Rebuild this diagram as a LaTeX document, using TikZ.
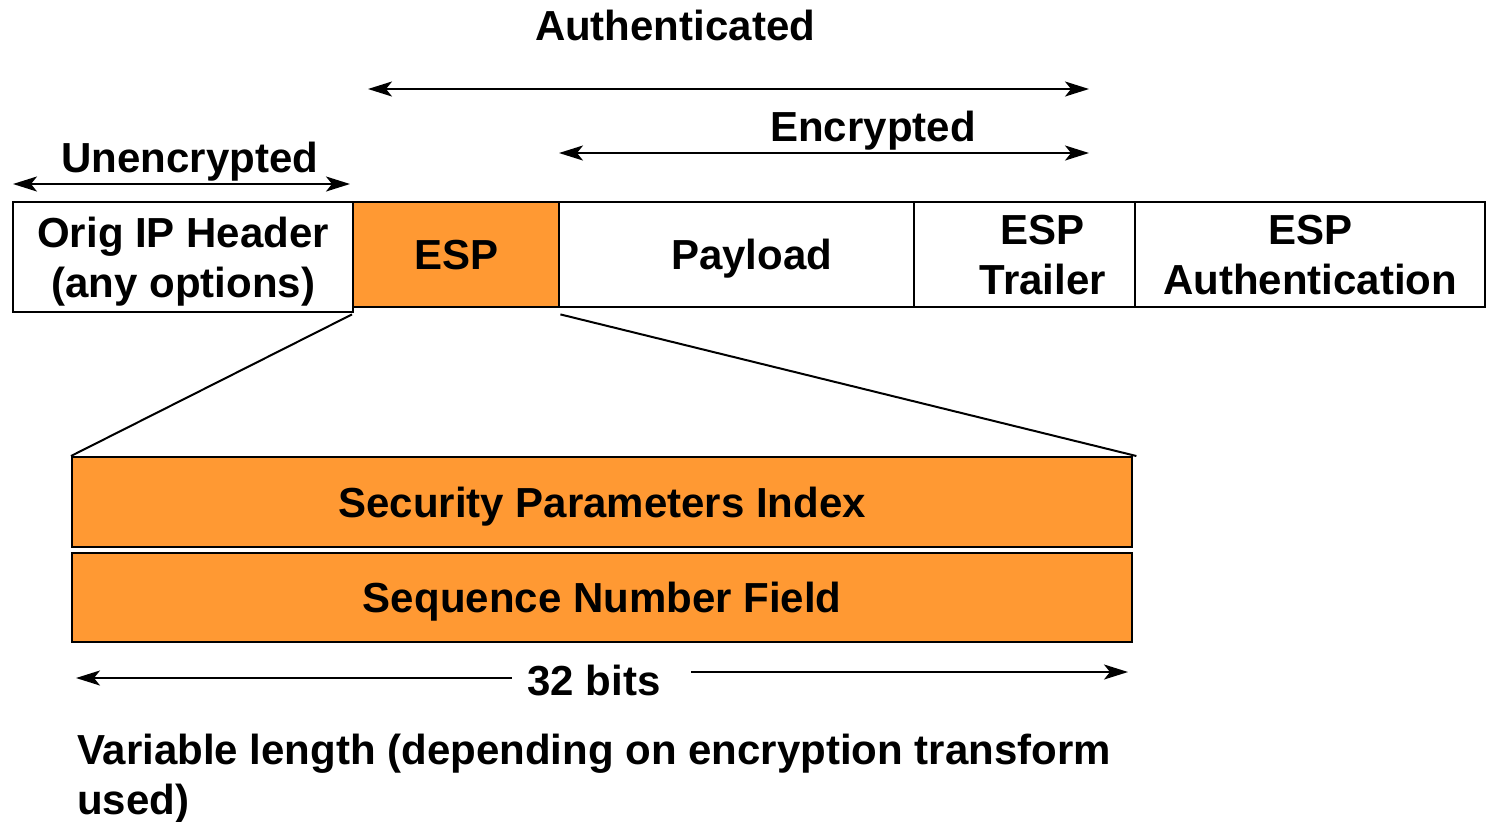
\documentclass[tikz,border=0pt]{standalone}
\usepackage{fontspec}
\setmainfont{Liberation Sans}
\usetikzlibrary{arrows.meta}
\definecolor{espfill}{RGB}{255,153,51}
\tikzset{esptip/.tip={Stealth[length=12pt, width=7.5pt, inset=3pt]}}

\begin{document}
\begin{tikzpicture}[x=0.5pt, y=-0.5pt, line width=1pt,
    font=\fontsize{21}{25}\selectfont\bfseries,
    field/.style={draw, line width=1.2pt, anchor=north west, align=center, inner sep=0pt, text depth=0pt},
    lbl/.style={inner sep=0pt},
    span/.style={esptip-esptip}]
  \useasboundingbox (0,0) rectangle (1488,821);
  % outer packet
  \node[field, minimum width=170pt, minimum height=55pt] (hdr) at (12,201) {Orig IP Header\\(any options)};
  \node[field, fill=espfill, minimum width=103pt, minimum height=52.5pt] (esp) at (352,201) {ESP};
  \node[field, minimum width=177.5pt, minimum height=52.5pt] (payload) at (558,201) {\hspace*{15pt}Payload};
  \node[field, minimum width=110.5pt, minimum height=52.5pt] (trailer) at (913,201) {\hspace*{18pt}ESP\\\hspace*{18pt}Trailer};
  \node[field, minimum width=175pt, minimum height=52.5pt] (auth) at (1134,201) {ESP\\Authentication};
  % ESP header fields
  \node[field, fill=espfill, minimum width=530pt, minimum height=45pt] (spi) at (71,456) {Security Parameters Index};
  \node[field, fill=espfill, minimum width=530pt, minimum height=44.5pt] (seq) at (71,552) {Sequence Number Field};
  \draw ([yshift=-3pt]esp.south west) -- (spi.north west);
  \draw ([yshift=-3pt]esp.south east) -- ([xshift=1.5pt]spi.north east);
  % coverage labels
  \node[lbl, anchor=base] (authlbl) at (675,40) {Authenticated};
  \node[lbl, anchor=base] (enclbl) at (873,141) {Encrypted};
  \node[lbl, anchor=base] (unenclbl) at (190,172) {Unencrypted};
  \node[lbl, anchor=base] (bitslbl) at (594,695) {32 bits};
  \node[lbl, anchor=base west, align=left] (varlbl) at (76,814) {Variable length (depending on encryption transform\\used)};
  \coordinate (authL) at (368,89);
  \coordinate (authR) at (1089,89);
  \coordinate (encL) at (559,153);
  \coordinate (encR) at (1089,153);
  \coordinate (unencL) at (13,184);
  \coordinate (unencR) at (350,184);
  \coordinate (bitsLa) at (76,678);
  \coordinate (bitsLb) at (512,678);
  \coordinate (bitsRa) at (691,672);
  \coordinate (bitsRb) at (1128,672);
  \draw[span] (authL) -- (authR);
  \draw[span] (encL) -- (encR);
  \draw[span] (unencL) -- (unencR);
  \draw[esptip-] (bitsLa) -- (bitsLb);
  \draw[-esptip] (bitsRa) -- (bitsRb);
\end{tikzpicture}
\end{document}
